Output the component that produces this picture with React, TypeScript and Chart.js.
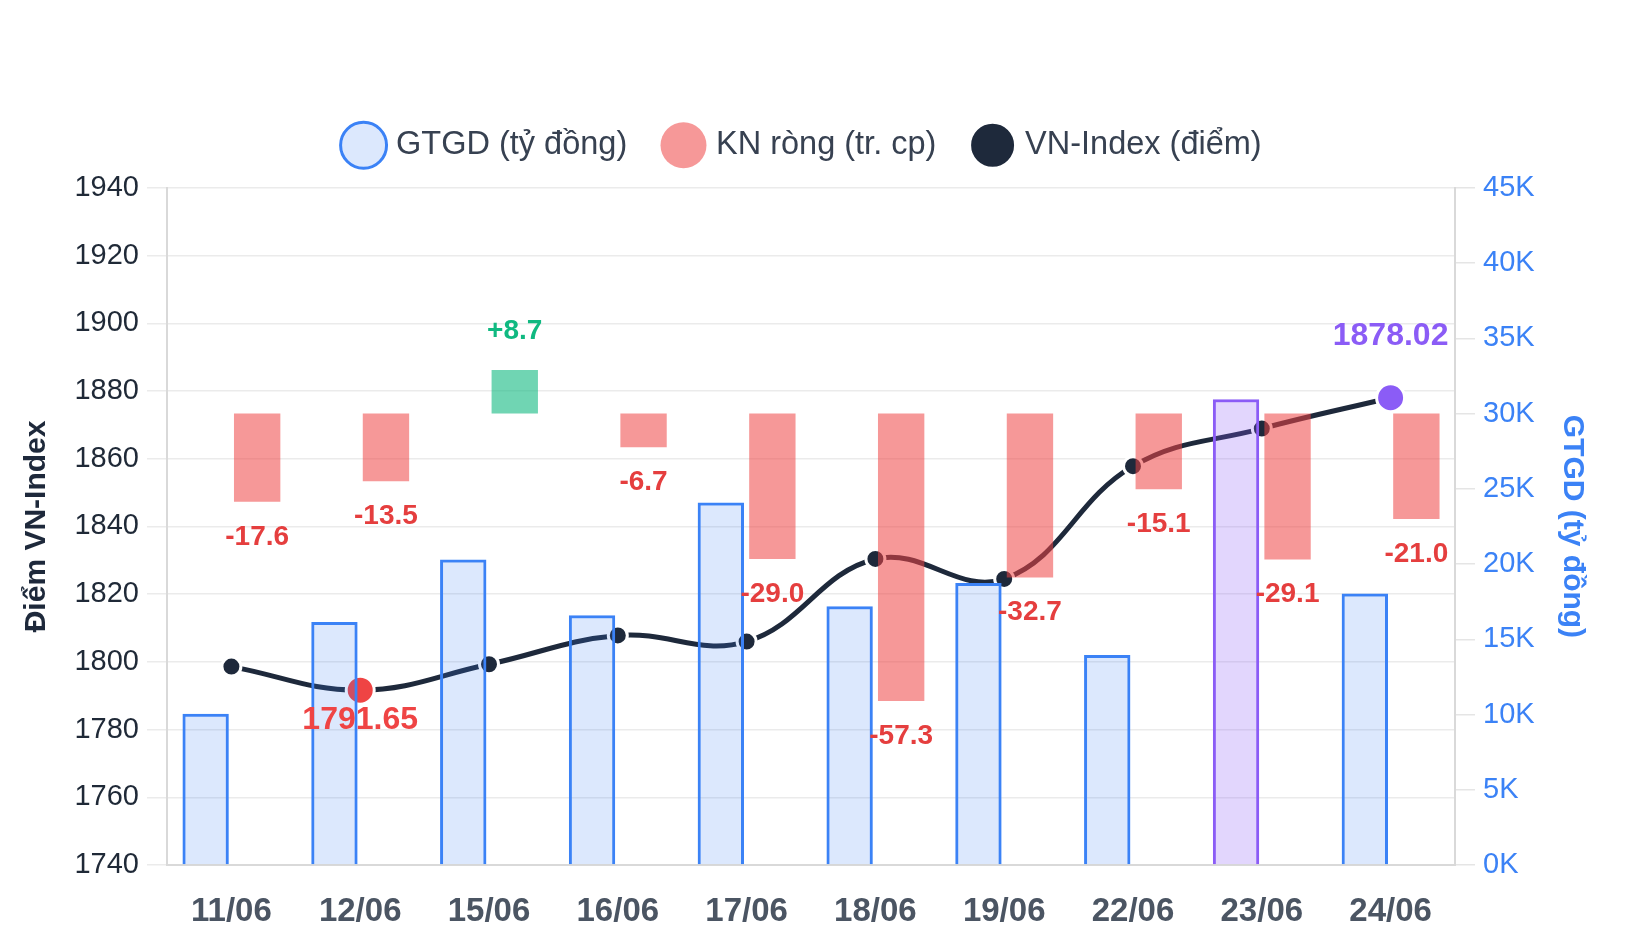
import React, { useEffect, useRef } from 'react';
import { Chart, registerables } from 'chart.js';

Chart.register(...registerables);

// Trading sessions
const dates = ['11/06', '12/06', '15/06', '16/06', '17/06', '18/06', '19/06', '22/06', '23/06', '24/06'];
// Trading value (GTGD), billion VND
const tradingValue = [10050, 16150, 20300, 16600, 24100, 17200, 18750, 13950, 30950, 18050];
// Foreign net volume (KN ròng), million shares
const foreignNet = [-17.6, -13.5, 8.7, -6.7, -29.0, -57.3, -32.7, -15.1, -29.1, -21.0];
// VN-Index close, points
const vnIndex = [1798.6, 1791.65, 1799.3, 1807.8, 1806.0, 1830.4, 1824.5, 1857.8, 1868.9, 1878.02];

// Axis ranges
const indexRange = [1740, 1940];
const indexStep = 20;
const valueRange = [0, 45000];
const valueStep = 5000;
const netRange = [-90, 45];

const FONT = "'Liberation Sans', Arial, Helvetica, sans-serif";
const NAVY = '#1e293b';
const BLUE = '#3b82f6';
const PURPLE = '#8b5cf6';
const RED = '#ef4444';
const RED_TEXT = '#e53e3e';
const GREEN_TEXT = '#10b981';

const maxValueIdx = tradingValue.indexOf(Math.max(...tradingValue));
const minIndexIdx = vnIndex.indexOf(Math.min(...vnIndex));
const maxIndexIdx = vnIndex.indexOf(Math.max(...vnIndex));

const valueLabels = {
  id: 'valueLabels',
  afterDatasetsDraw(chart: any) {
    const ctx = chart.ctx;
    ctx.save();
    ctx.textAlign = 'center';
    ctx.textBaseline = 'middle';

    // net-flow labels under / above each floating bar
    ctx.font = `bold 28px ${FONT}`;
    chart.getDatasetMeta(1).data.forEach((el: any, i: number) => {
      const v = foreignNet[i];
      if (v >= 0) {
        ctx.fillStyle = GREEN_TEXT;
        ctx.fillText('+' + v.toFixed(1), el.x, el.y - 39);
      } else {
        ctx.fillStyle = RED_TEXT;
        ctx.fillText(v.toFixed(1), el.x, el.y + 35);
      }
    });

    // lowest / highest close of the index
    const line = chart.getDatasetMeta(2).data;
    ctx.font = `bold 32px ${FONT}`;
    const lo = line[minIndexIdx];
    const hi = line[maxIndexIdx];
    ctx.fillStyle = RED;
    ctx.fillText(vnIndex[minIndexIdx].toFixed(2), lo.x, lo.y + 30);
    ctx.fillStyle = PURPLE;
    ctx.fillText(vnIndex[maxIndexIdx].toFixed(2), hi.x, hi.y - 62);
    ctx.restore();
  },
};

export default function App() {
  const canvasRef = useRef<HTMLCanvasElement | null>(null);

  useEffect(() => {
    document.body.style.margin = '0';
    const canvas = canvasRef.current;
    if (!canvas) return;

    const chart = new Chart(canvas, {
      type: 'bar',
      data: {
        labels: dates,
        datasets: [
          {
            type: 'bar',
            label: 'GTGD (tỷ đồng)',
            data: tradingValue,
            yAxisID: 'yValue',
            order: 1,
            backgroundColor: tradingValue.map((_, i) =>
              i === maxValueIdx ? 'rgba(139,92,246,0.25)' : 'rgba(59,130,246,0.18)'
            ),
            borderColor: tradingValue.map((_, i) => (i === maxValueIdx ? PURPLE : BLUE)),
            borderWidth: 3,
          },
          {
            type: 'bar',
            label: 'KN ròng (tr. cp)',
            data: foreignNet,
            yAxisID: 'yNet',
            order: 2,
            backgroundColor: foreignNet.map((v) =>
              v >= 0 ? 'rgba(16,185,129,0.6)' : 'rgba(239,68,68,0.55)'
            ),
            borderWidth: 0,
          },
          {
            type: 'line',
            label: 'VN-Index (điểm)',
            data: vnIndex,
            yAxisID: 'yIndex',
            order: 3,
            borderColor: NAVY,
            borderWidth: 5,
            tension: 0.4,
            fill: false,
            pointBackgroundColor: vnIndex.map((_, i) =>
              i === minIndexIdx ? RED : i === maxIndexIdx ? PURPLE : NAVY
            ),
            pointBorderColor: '#ffffff',
            pointBorderWidth: 3,
            pointRadius: vnIndex.map((_, i) => (i === minIndexIdx || i === maxIndexIdx ? 14 : 9.5)),
          },
        ],
      },
      options: {
        responsive: false,
        animation: false,
        devicePixelRatio: 1,
        layout: { padding: { top: 89, left: 15, right: 56, bottom: 20 } },
        plugins: {
          legend: {
            position: 'top',
            labels: {
              usePointStyle: true,
              pointStyle: 'circle',
              padding: 40,
              color: '#374151',
              font: { size: 32.5, family: FONT },
            },
          },
          // empty title used as a gap between legend and plot
          title: {
            display: true,
            text: '',
            padding: 0,
            weight: 500,
            font: { size: 10, lineHeight: 1.64 },
          },
          tooltip: { enabled: false },
        },
        scales: {
          x: {
            afterFit: (s: any) => {
              s.height = 65;
            },
            grid: { display: false, drawTicks: false },
            border: { display: true, color: '#d9d9d9', width: 2 },
            ticks: {
              padding: 27,
              color: '#4b5563',
              font: { size: 33, weight: 'bold', family: FONT },
            },
          },
          yIndex: {
            type: 'linear',
            position: 'left',
            min: indexRange[0],
            max: indexRange[1],
            afterFit: (s: any) => {
              s.width = 152;
            },
            ticks: {
              stepSize: indexStep,
              padding: 8,
              color: '#1f2937',
              font: { size: 29, family: FONT },
              callback: (v: any) => String(v),
            },
            grid: { color: '#ebebeb', lineWidth: 1.5, tickLength: 20 },
            border: { display: true, color: '#d9d9d9', width: 2 },
            title: {
              display: true,
              text: 'Điểm VN-Index',
              color: NAVY,
              padding: { top: 4, bottom: 4 },
              font: { size: 30, weight: 'bold', family: FONT },
            },
          },
          yValue: {
            type: 'linear',
            position: 'right',
            min: valueRange[0],
            max: valueRange[1],
            afterFit: (s: any) => {
              s.width = 139;
            },
            ticks: {
              stepSize: valueStep,
              padding: 8,
              color: BLUE,
              font: { size: 29, family: FONT },
              callback: (v: any) => `${Number(v) / 1000}K`,
            },
            grid: { drawOnChartArea: false, color: '#e5e5e5', lineWidth: 1.5, tickLength: 20 },
            border: { display: true, color: '#d9d9d9', width: 2 },
            title: {
              display: true,
              text: 'GTGD (tỷ đồng)',
              color: BLUE,
              padding: { top: 4, bottom: 4 },
              font: { size: 30, weight: 'bold', family: FONT },
            },
          },
          yNet: {
            type: 'linear',
            display: false,
            min: netRange[0],
            max: netRange[1],
          },
        },
      } as any,
      plugins: [valueLabels],
    });

    return () => chart.destroy();
  }, []);

  return (
    <div style={{ width: 1650, height: 950, background: '#ffffff' }}>
      <canvas ref={canvasRef} width={1650} height={950} />
    </div>
  );
}
